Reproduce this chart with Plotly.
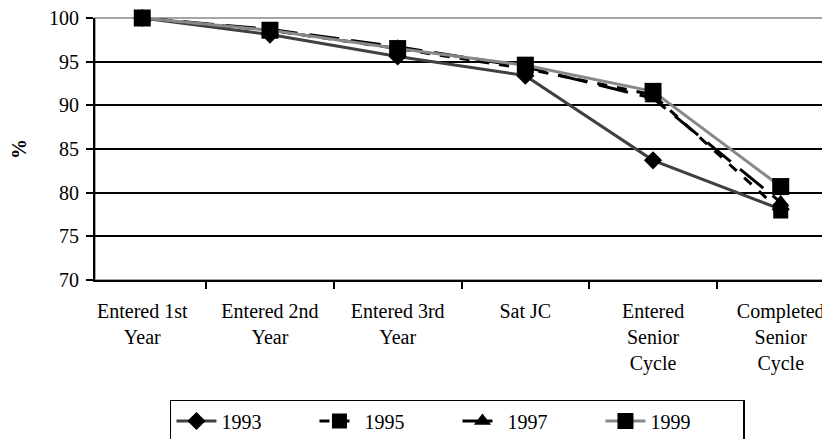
import plotly.graph_objects as go

categories = ["Entered 1st<br>Year", "Entered 2nd<br>Year", "Entered 3rd<br>Year",
              "Sat JC", "Entered<br>Senior<br>Cycle", "Completed<br>Senior<br>Cycle"]
v1993 = [100, 98.1, 95.6, 93.4, 83.7, 78.1]
v1995 = [100, 98.6, 96.5, 94.2, 91.2, 77.9]
v1997 = [100, 98.7, 96.7, 94.4, 90.8, 78.9]
v1999 = [100, 98.6, 96.5, 94.6, 91.6, 80.7]
y_ticks = [70, 75, 80, 85, 90, 95, 100]

FONT = "'Times New Roman', 'Liberation Serif', 'DejaVu Serif', serif"

fig = go.Figure()
fig.add_trace(go.Scatter(x=categories, y=v1993, name="1993", mode="lines+markers",
                         line=dict(color="#404040", width=3),
                         marker=dict(symbol="diamond", size=14, color="black"),
                         cliponaxis=False))
fig.add_trace(go.Scatter(x=categories, y=v1995, name="1995", mode="lines+markers",
                         line=dict(color="black", width=3, dash="10px,10px"),
                         marker=dict(symbol="square", size=15, color="black"),
                         cliponaxis=False))
fig.add_trace(go.Scatter(x=categories, y=v1997, name="1997", mode="lines+markers",
                         line=dict(color="black", width=3, dash="30px,12px"),
                         marker=dict(symbol="triangle-up", size=15, color="black"),
                         cliponaxis=False))
fig.add_trace(go.Scatter(x=categories, y=v1999, name="1999", mode="lines+markers",
                         line=dict(color="#888888", width=3),
                         marker=dict(symbol="square", size=17, color="black"),
                         cliponaxis=False))

fig.add_shape(type="rect", xref="paper", yref="paper", x0=0, y0=0, x1=1, y1=1,
              line=dict(color="#888888", width=1.5), layer="below")

fig.update_layout(
    width=822, height=431,
    margin=dict(l=87, r=2, t=10, b=159, autoexpand=False),
    paper_bgcolor="white", plot_bgcolor="white",
    font=dict(family=FONT, size=20, color="black"),
    showlegend=True,
    legend=dict(orientation="h", x=0.4945, xanchor="center", y=-0.458, yanchor="top",
                bordercolor="black", borderwidth=1.5, font=dict(size=20, family=FONT),
                entrywidth=88, itemwidth=40, tracegroupgap=0),
)
fig.update_xaxes(type="category", showline=True, linecolor="black", linewidth=2,
                 ticks="outside", tickson="boundaries", ticklen=7, tickwidth=2,
                 tickcolor="black", showgrid=False, automargin=False,
                 ticklabeloverflow="allow", ticklabelstandoff=12,
                 tickfont=dict(family=FONT, size=20, color="black"))
fig.update_yaxes(range=[70, 100], tickvals=y_ticks, showline=True, linecolor="black",
                 linewidth=2, ticks="outside", ticklen=7, tickwidth=2, tickcolor="black",
                 showgrid=True, gridcolor="black", gridwidth=1.5, zeroline=False,
                 automargin=False, ticklabeloverflow="allow", ticklabelstandoff=3,
                 tickfont=dict(family=FONT, size=20, color="black"),
                 title=dict(text="<b>%</b>", font=dict(family=FONT, size=20), standoff=22))

fig.write_html("out.html")
